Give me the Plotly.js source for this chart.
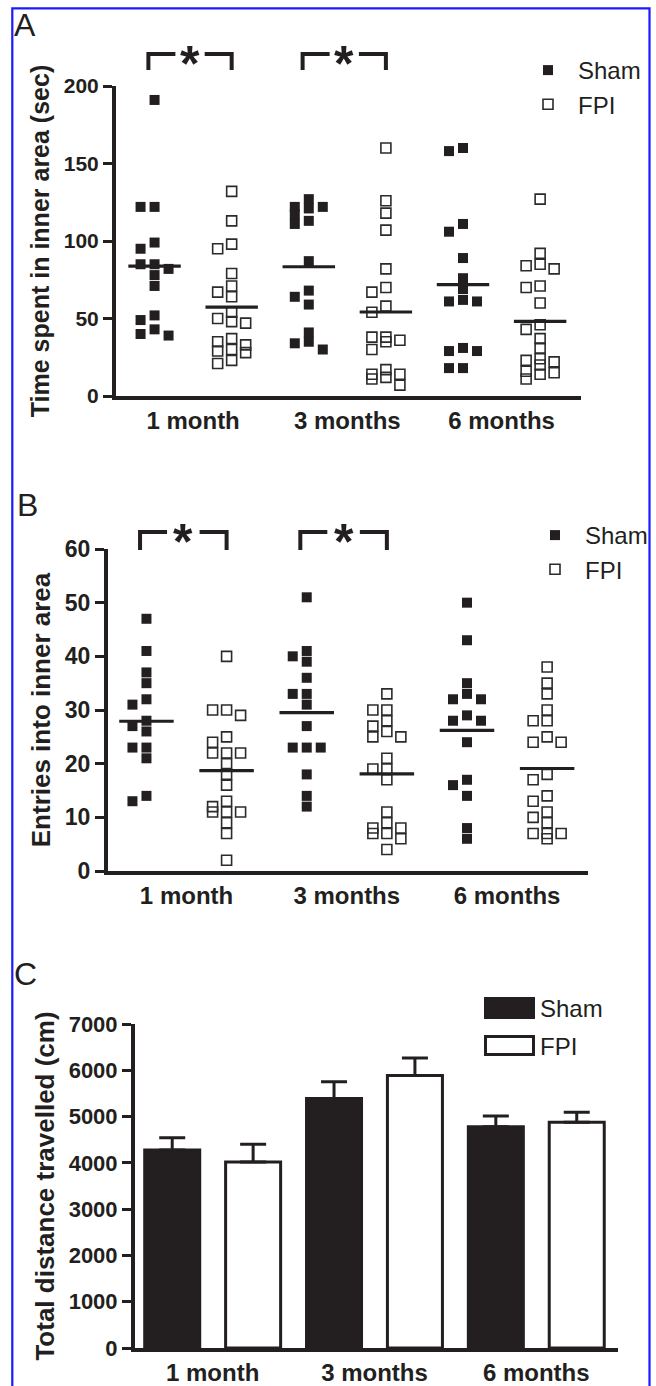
<!DOCTYPE html>
<html><head><meta charset="utf-8">
<script src="https://cdn.plot.ly/plotly-3.0.1.min.js"></script>
<style>html,body{margin:0;padding:0;background:#fff}#chart{width:656px;height:1386px}</style>
</head><body><div id="chart"></div>
<script>
// ---------------- DATA ----------------
const timeLabels = ['1 month', '3 months', '6 months'];
const seriesNames = ['Sham', 'FPI'];

// Panel A: Time spent in inner area (sec)
const shamInner1m = [191, 122, 122, 99, 95, 85, 85, 82, 78, 71, 52, 49, 43, 40, 39];
const shamInner3m = [127, 122, 122, 121, 117, 113, 111, 87, 68, 64, 59, 41, 35, 34, 30];
const shamInner6m = [160, 158, 111, 106, 89, 76, 69, 62, 61, 61, 31, 29, 29, 18, 18];
const fpiInner1m = [132, 113, 98, 95, 79, 71, 67, 64, 54, 50, 48, 47, 37, 35, 33, 30, 29, 28, 23, 21];
const fpiInner3m = [160, 126, 118, 107, 82, 70, 67, 58, 54, 38, 38, 36, 35, 30, 17, 14, 14, 12, 11, 7];
const fpiInner6m = [127, 92, 85, 84, 82, 71, 70, 60, 46, 43, 37, 31, 24, 23, 22, 20, 16, 15, 14, 11];
const shamInnerMean = [83.8, 83.4, 71.8];
const fpiInnerMean = [57.4, 54.2, 48.2];

// Panel B: Entries into inner area
const shamEntries1m = [47, 41, 37, 35, 32, 31, 28, 27, 26, 23, 23, 21, 14, 13];
const shamEntries3m = [51, 41, 40, 39, 36, 33, 33, 31, 27, 23, 23, 23, 18, 14, 12];
const shamEntries6m = [50, 43, 35, 33, 32, 32, 29, 28, 28, 24, 17, 16, 14, 8, 6];
const fpiEntries1m = [40, 30, 30, 29, 25, 24, 22, 22, 22, 20, 18, 16, 13, 12, 11, 11, 11, 9, 7, 2];
const fpiEntries3m = [33, 30, 30, 28, 27, 26, 25, 25, 21, 19, 19, 17, 11, 9, 8, 8, 7, 7, 6, 4];
const fpiEntries6m = [38, 35, 33, 30, 28, 28, 25, 24, 24, 18, 17, 14, 13, 11, 10, 9, 7, 7, 7, 6];
const shamEntriesMean = [27.9, 29.5, 26.2];
const fpiEntriesMean = [18.7, 18.1, 19.1];

// Panel C: Total distance travelled (cm), mean and SEM
const shamDistance = [4280, 5390, 4780];
const shamDistanceSem = [265, 360, 230];
const fpiDistance = [4020, 5890, 4880];
const fpiDistanceSem = [380, 375, 215];

// ---------------- STYLE / LAYOUT ----------------
const W = 656, H = 1386;
const ink = '#231f20';
const F = 'Liberation Sans, Arial, Helvetica, sans-serif';
const dom = {
  A: {x0: 116, x1: 581, y0: 86, y1: 396, xr: [0.5, 6.53], yr: [0, 200]},
  B: {x0: 108, x1: 588, y0: 549, y1: 871, xr: [0.52, 6.51], yr: [0, 60]},
  C: {x0: 135, x1: 618, y0: 1024, y1: 1348, xr: [0.54, 6.51], yr: [0, 7000]}
};
const px = x => x / W;
const py = y => 1 - y / H;
function dataToPx(d, x) { return d.x0 + (x - d.xr[0]) / (d.xr[1] - d.xr[0]) * (d.x1 - d.x0); }
const shamPos = timeLabels.map((_, i) => 2 * i + 1);
const fpiPos = timeLabels.map((_, i) => 2 * i + 2);
const labelPos = timeLabels.map((_, i) => 2 * i + 1.5);

// column scatter placement (GraphPad-like), computed from the values
function swarm(values, center, d, stepPx, thrPx) {
  const unitX = (d.xr[1] - d.xr[0]) / (d.x1 - d.x0);
  const unitY = (d.y1 - d.y0) / (d.yr[1] - d.yr[0]);
  const cols = [0, -1, 1];
  const placed = [];
  const xs = new Array(values.length);
  const order = values.map((v, i) => i).sort((a, b) => values[b] - values[a]);
  order.forEach(i => {
    const v = values[i];
    let best = 0, bestD = -1;
    for (const c of cols) {
      let minD = Infinity;
      placed.forEach(p => { if (p.c === c) minD = Math.min(minD, Math.abs(p.v - v) * unitY); });
      if (minD >= thrPx) { best = c; bestD = minD; break; }
      if (minD > bestD) { bestD = minD; best = c; }
    }
    placed.push({v: v, c: best});
    xs[i] = center + best * stepPx * unitX;
  });
  return xs;
}

function scatterPanel(groupsSham, groupsFpi, meansSham, meansFpi, d, xa, ya, legendId) {
  const traces = [];
  const sx = [], sy = [], fx = [], fy = [];
  groupsSham.forEach((g, i) => { sx.push(...swarm(g, shamPos[i], d, 14, 9)); sy.push(...g); });
  groupsFpi.forEach((g, i) => { fx.push(...swarm(g, fpiPos[i], d, 14, 9)); fy.push(...g); });
  traces.push({type: 'scatter', mode: 'markers', name: seriesNames[0], x: sx, y: sy, xaxis: xa, yaxis: ya,
    legend: legendId, legendgroup: legendId + 's', cliponaxis: false,
    marker: {symbol: 'square', size: 10, color: ink, line: {width: 0}}});
  traces.push({type: 'scatter', mode: 'markers', name: seriesNames[1], x: fx, y: fy, xaxis: xa, yaxis: ya,
    legend: legendId, legendgroup: legendId + 'f', cliponaxis: false,
    marker: {symbol: 'square-open', size: 10, color: '#2b2b2b', line: {width: 1.6, color: '#2b2b2b'}}});
  const mx = [], my = [];
  const hw = 0.34;
  meansSham.forEach((m, i) => { mx.push(shamPos[i] - hw, shamPos[i] + hw, null); my.push(m, m, null); });
  meansFpi.forEach((m, i) => { mx.push(fpiPos[i] - hw, fpiPos[i] + hw, null); my.push(m, m, null); });
  traces.push({type: 'scatter', mode: 'lines', x: mx, y: my, xaxis: xa, yaxis: ya, showlegend: false,
    cliponaxis: false, line: {color: ink, width: 3.2}, hoverinfo: 'skip'});
  return traces;
}

const traces = [];
traces.push(...scatterPanel([shamInner1m, shamInner3m, shamInner6m], [fpiInner1m, fpiInner3m, fpiInner6m],
  shamInnerMean, fpiInnerMean, dom.A, 'x', 'y', 'legend'));
traces.push(...scatterPanel([shamEntries1m, shamEntries3m, shamEntries6m], [fpiEntries1m, fpiEntries3m, fpiEntries6m],
  shamEntriesMean, fpiEntriesMean, dom.B, 'x2', 'y2', 'legend2'));

const barW = 0.68;
traces.push({type: 'bar', name: seriesNames[0], x: shamPos, y: shamDistance, width: barW, xaxis: 'x3', yaxis: 'y3',
  showlegend: false, marker: {color: ink, line: {color: ink, width: 3}},
  error_y: {type: 'data', symmetric: false, array: shamDistanceSem, arrayminus: shamDistanceSem.map(() => 0),
    color: ink, thickness: 3, width: 13}});
traces.push({type: 'bar', name: seriesNames[1], x: fpiPos, y: fpiDistance, width: barW, xaxis: 'x3', yaxis: 'y3',
  showlegend: false, marker: {color: '#ffffff', line: {color: ink, width: 3}},
  error_y: {type: 'data', symmetric: false, array: fpiDistanceSem, arrayminus: fpiDistanceSem.map(() => 0),
    color: ink, thickness: 3, width: 13}});

function xAxis(d, anchor) {
  return {domain: [d.x0 / W, d.x1 / W], range: d.xr, anchor: anchor, showline: true, linewidth: 4, linecolor: ink,
    ticks: '', tickvals: labelPos, ticktext: timeLabels,
    tickfont: {family: F, size: 24, color: ink, weight: 'bold'}, showgrid: false, zeroline: false,
    fixedrange: true, automargin: false};
}
function yAxis(d, anchor, dtick, tsize, title, tsz) {
  return {domain: [1 - d.y1 / H, 1 - d.y0 / H], range: d.yr, anchor: anchor, showline: true, linewidth: 4,
    linecolor: ink, ticks: 'outside', ticklen: 9, tickwidth: 3, tickcolor: ink, tick0: 0, dtick: dtick,
    tickfont: {family: F, size: tsize, color: ink, weight: 'bold'}, showgrid: false, zeroline: false,
    fixedrange: true, automargin: false,
    title: {text: title, font: {family: F, size: tsz, color: ink, weight: 'bold'}, standoff: 8}};
}

const shapes = [];
const annotations = [];
// blue frame
shapes.push({type: 'rect', xref: 'paper', yref: 'paper', x0: px(12.3), x1: px(649.5), y0: -0.05, y1: py(8.3),
  line: {color: '#1a1aff', width: 2.2}, fillcolor: 'rgba(0,0,0,0)', layer: 'above'});

// panel letters
[['A', 12, 25], ['B', 15, 505], ['C', 12, 974]].forEach(([t, x, y]) => {
  annotations.push({text: t, xref: 'paper', yref: 'paper', x: px(x), y: py(y), xanchor: 'left', yanchor: 'middle',
    showarrow: false, font: {family: F, size: 32, color: ink}});
});

// significance brackets
function bracket(d, xs, xe, yTop, yBot) {
  const a = dataToPx(d, xs), b = dataToPx(d, xe);
  const seg = 27;
  const path = `M ${px(a)},${py(yBot)} L ${px(a)},${py(yTop)} L ${px(a + seg)},${py(yTop)} ` +
               `M ${px(b - seg)},${py(yTop)} L ${px(b)},${py(yTop)} L ${px(b)},${py(yBot)}`;
  shapes.push({type: 'path', xref: 'paper', yref: 'paper', path: path, line: {color: ink, width: 4}, layer: 'above'});
  annotations.push({text: '*', xref: 'paper', yref: 'paper', x: px((a + b) / 2), y: py(yTop + 10), xanchor: 'center',
    yanchor: 'middle', showarrow: false, font: {family: F, size: 50, color: ink, weight: 'bold'}});
}
bracket(dom.A, shamPos[0] - 0.08, fpiPos[0], 54, 70);
bracket(dom.A, shamPos[1] - 0.08, fpiPos[1], 54, 70);
bracket(dom.B, shamPos[0] - 0.08, fpiPos[0], 532, 550);
bracket(dom.B, shamPos[1] - 0.08, fpiPos[1], 532, 550);

// legend for panel C (bar swatches)
shapes.push({type: 'rect', xref: 'paper', yref: 'paper', x0: px(485), x1: px(534), y0: py(1018), y1: py(998),
  fillcolor: ink, line: {color: ink, width: 2}});
shapes.push({type: 'rect', xref: 'paper', yref: 'paper', x0: px(485.5), x1: px(533.5), y0: py(1054.5), y1: py(1036.5),
  fillcolor: '#ffffff', line: {color: ink, width: 3}});
annotations.push({text: seriesNames[0], xref: 'paper', yref: 'paper', x: px(538), y: py(1008), xanchor: 'left',
  yanchor: 'middle', showarrow: false, font: {family: F, size: 24, color: ink}});
annotations.push({text: seriesNames[1], xref: 'paper', yref: 'paper', x: px(538), y: py(1046), xanchor: 'left',
  yanchor: 'middle', showarrow: false, font: {family: F, size: 24, color: ink}});

const legendBase = {xanchor: 'left', yanchor: 'top', font: {family: F, size: 24, color: ink}, itemwidth: 50,
  tracegroupgap: 0, bgcolor: 'rgba(0,0,0,0)', borderwidth: 0, traceorder: 'grouped'};

const layout = {
  width: W, height: H, margin: {l: 0, r: 0, t: 0, b: 0}, paper_bgcolor: '#fff', plot_bgcolor: 'rgba(0,0,0,0)',
  showlegend: true,
  legend: Object.assign({}, legendBase, {x: px(518), y: py(48)}),
  legend2: Object.assign({}, legendBase, {x: px(525), y: py(513)}),
  xaxis: xAxis(dom.A, 'y'), yaxis: yAxis(dom.A, 'x', 50, 21, 'Time spent in inner area (sec)', 25),
  xaxis2: xAxis(dom.B, 'y2'), yaxis2: yAxis(dom.B, 'x2', 10, 23, 'Entries into inner area', 26),
  xaxis3: xAxis(dom.C, 'y3'), yaxis3: yAxis(dom.C, 'x3', 1000, 22, 'Total distance travelled (cm)', 26),
  barmode: 'overlay', shapes: shapes, annotations: annotations
};

Plotly.newPlot('chart', traces, layout, {displayModeBar: false, staticPlot: true});
</script></body></html>
